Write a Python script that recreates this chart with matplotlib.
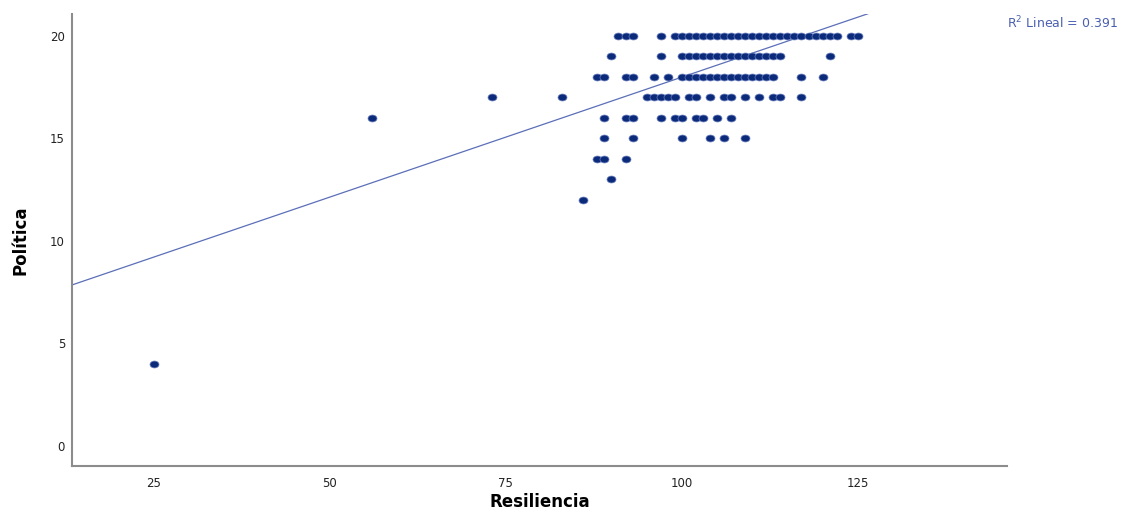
import numpy as np
import matplotlib
matplotlib.use("Agg")
import matplotlib.pyplot as plt

# Resiliencia values grouped by Politica score
rows = {
    20: [91, 92, 93, 97] + list(range(99, 123)) + [124, 125],
    19: [90, 97] + list(range(100, 115)) + [121],
    18: [88, 89, 92, 93, 96, 98] + list(range(100, 114)) + [117, 120],
    17: [73, 83, 95, 96, 97, 98, 99, 101, 102, 104, 106, 107, 109, 111, 113, 114, 117],
    16: [56, 89, 92, 93, 97, 99, 100, 102, 103, 105, 107],
    15: [89, 93, 100, 104, 106, 109],
    14: [88, 89, 92],
    13: [90],
    12: [86],
    4: [25],
}
resiliencia = []
politica = []
for y, xs in rows.items():
    resiliencia += xs
    politica += [y] * len(xs)

# linear fit line as reported by SPSS
fit_intercept = 6.29
fit_slope = 0.117
r2 = 0.391

xticks = [25, 50, 75, 100, 125]
yticks = [0, 5, 10, 15, 20]

fig = plt.figure(figsize=(11.26, 5.17), dpi=100)
ax = fig.add_axes([0.0639, 0.0986, 0.8304, 0.8743])

# slightly wide ellipse marker
t = np.linspace(0, 2 * np.pi, 40)
ell = np.column_stack([np.cos(t) * 1.3, np.sin(t)])
ax.scatter(resiliencia, politica, marker=ell, s=42, color='#0b2a7a',
           edgecolors='#6a7fc0', linewidths=0.5, zorder=3)

xmin, xmax = 13.35, 146.2
xl = np.array([xmin, 126.7])
ax.plot(xl, fit_intercept + fit_slope * xl, color='#5b6fb8', lw=0.9, zorder=2)

ax.set_xlim(xmin, xmax)
ax.set_ylim(-0.98, 21.07)
ax.set_xticks(xticks)
ax.set_yticks(yticks)
ax.tick_params(length=0, labelsize=8.5, colors='#222222')
ax.tick_params(axis='y', pad=5)
ax.tick_params(axis='x', pad=8)
for s in ['top', 'right']:
    ax.spines[s].set_visible(False)
for s in ['left', 'bottom']:
    ax.spines[s].set_color('#8c8c8c')
    ax.spines[s].set_linewidth(1.5)

fig.text(0.479, 0.012, 'Resiliencia', fontsize=12, fontweight='bold',
         ha='center', va='bottom')
fig.text(0.018, 0.536, 'Política', fontsize=12, fontweight='bold',
         ha='center', va='center', rotation=90)

fig.text(0.993, 0.955, r'R$^2$ Lineal = %.3f' % r2, ha='right', va='center',
         fontsize=9, color='#4a5fb0')

fig.savefig('out.png', dpi=100)
